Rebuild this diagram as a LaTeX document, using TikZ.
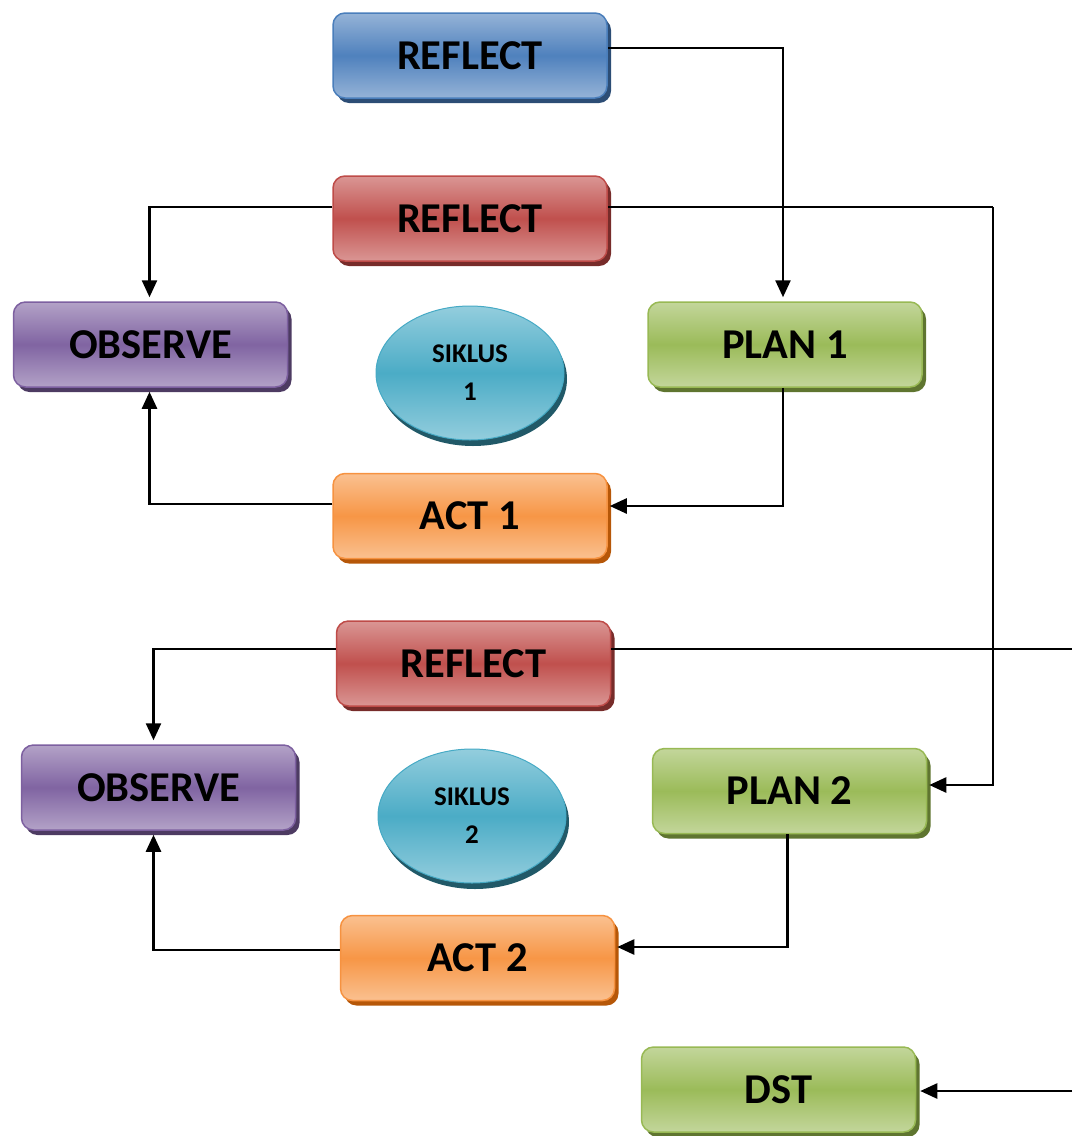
\documentclass[tikz,border=0pt]{standalone}
\usepackage{fontspec}
\setmainfont{Carlito}
\usetikzlibrary{arrows.meta,shadows,shapes.geometric}
\definecolor{blueM}{HTML}{4F81BD}\definecolor{blueL}{HTML}{95B3D7}\definecolor{blueD}{HTML}{2C4D75}\definecolor{blueB}{HTML}{4A7EBB}
\definecolor{redM}{HTML}{C0504D}\definecolor{redL}{HTML}{DA9694}\definecolor{redD}{HTML}{772C2A}\definecolor{redB}{HTML}{BE4B48}
\definecolor{purM}{HTML}{8064A2}\definecolor{purL}{HTML}{B3A2C7}\definecolor{purD}{HTML}{4D3B62}\definecolor{purB}{HTML}{7D60A0}
\definecolor{grnM}{HTML}{9BBB59}\definecolor{grnL}{HTML}{C3D69B}\definecolor{grnD}{HTML}{5F7530}\definecolor{grnB}{HTML}{98B954}
\definecolor{orgM}{HTML}{F79646}\definecolor{orgL}{HTML}{FAC090}\definecolor{orgD}{HTML}{B65708}\definecolor{orgB}{HTML}{F69240}
\definecolor{tealM}{HTML}{4BACC6}\definecolor{tealL}{HTML}{93CDDD}\definecolor{tealD}{HTML}{215968}\definecolor{tealB}{HTML}{46AAC5}
\tikzset{
  bx/.style={rounded corners=12pt, minimum width=274pt, minimum height=85pt, inner sep=0pt,
    line width=1.5pt, font=\fontsize{42.5}{42.5}\selectfont\bfseries,
    draw=#1B, top color=#1L, bottom color=#1L, middle color=#1M,
    drop shadow={fill=#1D, opacity=1, shadow xshift=4pt, shadow yshift=-5pt}},
  elp/.style={ellipse, minimum width=188pt, minimum height=134pt, inner sep=0pt,
    line width=1pt, draw=#1B, top color=#1L, bottom color=#1L, middle color=#1M,
    font=\fontsize{27}{38}\selectfont\bfseries, align=center,
    drop shadow={fill=#1D, opacity=1, shadow xshift=3pt, shadow yshift=-6pt}},
  conn/.style={line width=2.5pt, line join=miter},
  arr/.style={conn, -{Triangle[length=17pt,width=15pt]}}
}
\begin{document}
\begin{tikzpicture}[x=1pt,y=-1pt]
\useasboundingbox (0,0) rectangle (1072,1136);
\node[bx=blue] (R0) at (470,55.5) {REFLECT};
\node[bx=red] (R1) at (470,218.5) {REFLECT};
\node[bx=pur] (O1) at (150.5,344.5) {OBSERVE};
\node[bx=grn] (P1) at (785,344.5) {PLAN 1};
\node[elp=teal] (E1) at (470,373) {SIKLUS\\1};
\node[bx=org] (A1) at (470,516) {ACT 1};
\node[bx=red] (R2) at (473.5,663.5) {REFLECT};
\node[bx=pur] (O2) at (158.5,787.5) {OBSERVE};
\node[elp=teal] (E2) at (472,816) {SIKLUS\\2};
\node[bx=grn] (P2) at (789.5,791) {PLAN 2};
\node[bx=org] (A2) at (477.5,958) {ACT 2};
\node[bx=grn] (D) at (778.5,1089.5) {DST};
\coordinate (c1) at (993,207);
\coordinate (eR) at (1072,649);
\coordinate (eD) at (1072,1091);
% cycle 1
\draw[arr] ([yshift=7.5pt]R0.east) -| ([xshift=-2pt,yshift=4pt]P1.north);
\draw[arr] ([yshift=11.5pt]R1.west) -| ([xshift=-1pt,yshift=4pt]O1.north);
\draw[conn] ([yshift=11.5pt]R1.east) -- (c1);
\draw[arr] (c1) |- ([yshift=6pt,xshift=2pt]P2.east);
\draw[arr] ([xshift=-2pt]P1.south) |- ([yshift=10pt,xshift=2pt]A1.east);
\draw[arr] ([yshift=12pt]A1.west) -| ([xshift=-1pt,yshift=-4pt]O1.south);
% cycle 2
\draw[arr] ([yshift=14.5pt]R2.west) -| ([xshift=-5pt,yshift=4pt]O2.north);
\draw[conn] ([yshift=14.5pt]R2.east) -- (eR);
\draw[arr] ([xshift=-2pt]P2.south) |- ([yshift=11pt,xshift=2pt]A2.east);
\draw[arr] ([yshift=8pt]A2.west) -| ([xshift=-5pt,yshift=-4pt]O2.south);
\draw[arr] (eD) -- ([yshift=-1.5pt,xshift=4pt]D.east);
\end{tikzpicture}
\end{document}
